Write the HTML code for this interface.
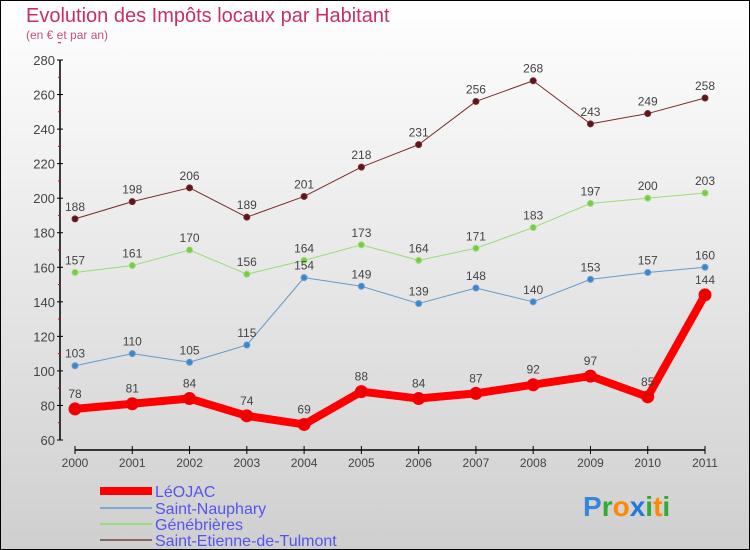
<!DOCTYPE html>
<html><head><meta charset="utf-8"><style>
body{margin:0}
svg{display:block;font-family:"Liberation Sans",sans-serif}
</style></head><body>
<svg id="c" width="750" height="550">
<defs><linearGradient id="bg" x1="0" y1="0" x2="0" y2="1"><stop offset="0" stop-color="#ffffff"/><stop offset="1" stop-color="#cfcfcf"/></linearGradient></defs>
<rect x="0.5" y="0.5" width="749" height="549" fill="url(#bg)" stroke="#000"/>
<text x="26" y="22" font-size="20" fill="#c8305f">Evolution des Impôts locaux par Habitant</text>
<text x="26" y="39" font-size="12" fill="#c8507a">(en € et par an)</text>
<g id="axes"></g><g id="series"></g>
<g>
<line x1="100" y1="491" x2="152" y2="491" stroke="#ff0000" stroke-width="8"/>
<text x="155" y="497" font-size="16" fill="#5555ee">LéOJAC</text>
<line x1="100" y1="508" x2="152" y2="508" stroke="#7aaad0" stroke-width="2"/>
<text x="155" y="514" font-size="16" fill="#5555ee">Saint-Nauphary</text>
<line x1="100" y1="524" x2="152" y2="524" stroke="#99dd77" stroke-width="2"/>
<text x="155" y="530" font-size="16" fill="#5555ee">Génébrières</text>
<line x1="100" y1="540" x2="152" y2="540" stroke="#886666" stroke-width="2"/>
<text x="155" y="546" font-size="16" fill="#5555ee">Saint-Etienne-de-Tulmont</text>
</g>
<text x="583" y="516" font-size="28" font-weight="bold"><tspan fill="#3388dd">P</tspan><tspan fill="#33aa33">r</tspan><tspan fill="#ff8800">o</tspan><tspan fill="#2277dd">x</tspan><tspan fill="#33aa33">i</tspan><tspan fill="#ff8800">t</tspan><tspan fill="#33aa33">i</tspan></text>
</svg>
<script>
const years=["2000","2001","2002","2003","2004","2005","2006","2007","2008","2009","2010","2011"];
const yTicks=[60,80,100,120,140,160,180,200,220,240,260,280];
const leojac=[78,81,84,74,69,88,84,87,92,97,85,144];
const nauphary=[103,110,105,115,154,149,139,148,140,153,157,160];
const genebrieres=[157,161,170,156,164,173,164,171,183,197,200,203];
const etienne=[188,198,206,189,201,218,231,256,268,243,249,258];
const NS="http://www.w3.org/2000/svg";
const xs=i=>75+i*(630/11);
const ys=v=>440-(v-60)*(380/220);
function mk(t,a,p){const e=document.createElementNS(NS,t);for(const k in a)e.setAttribute(k,a[k]);p.appendChild(e);return e;}
const ax=document.getElementById('axes');
let yl=mk('line',{x1:60,y1:ys(280),x2:60,y2:ys(60),stroke:'#000','stroke-width':1.5},ax);


yTicks.forEach(v=>{
 const l=mk('line',{x1:57,y1:ys(v),x2:63,y2:ys(v),stroke:'#000'},ax);
 
 
 const m=mk('line',{x1:58,y1:ys(v+10),x2:61,y2:ys(v+10),stroke:'#d00'},ax);
 
 
 const t=mk('text',{x:55,y:ys(v)+5,'text-anchor':'end','font-size':13,fill:'#444'},ax);
 t.textContent=v;
 
 
});
let xl=mk('line',{x1:75,y1:450,x2:705,y2:450,stroke:'#000','stroke-width':1.5},ax);


years.forEach((y,i)=>{
 const l=mk('line',{x1:xs(i),y1:446,x2:xs(i),y2:454,stroke:'#000'},ax);
 
 
 const t=mk('text',{x:xs(i),y:467,'text-anchor':'middle','font-size':12,fill:'#444'},ax);
 t.textContent=y;
 
 
});
const sg=document.getElementById('series');
function draw(data,name,col,dot,w,r){
 const g=mk('g',{},sg);
 
 
 const p=mk('polyline',{points:data.map((v,i)=>xs(i)+','+ys(v)).join(' '),fill:'none',stroke:col,'stroke-width':w,'stroke-linejoin':'round'},g);
 
 
 data.forEach((v,i)=>{
  const c=mk('circle',{cx:xs(i),cy:ys(v),r:r,fill:dot,stroke:col,'stroke-width':1},g);
  
  
  const t=mk('text',{x:xs(i),y:ys(v)-(r+5),'text-anchor':'middle','font-size':12,fill:'#444'},g);
  t.textContent=v;
  
  
 });
}
draw(etienne,'saint-etienne','#7a2a2a','#5a1520',1,3);
draw(genebrieres,'genebrieres','#99dd77','#77cc44',1,3);
draw(nauphary,'saint-nauphary','#6699cc','#3a88cc',1,3);
draw(leojac,'leojac','#ff0000','#ee0000',8,6);
</script>
</body></html>
